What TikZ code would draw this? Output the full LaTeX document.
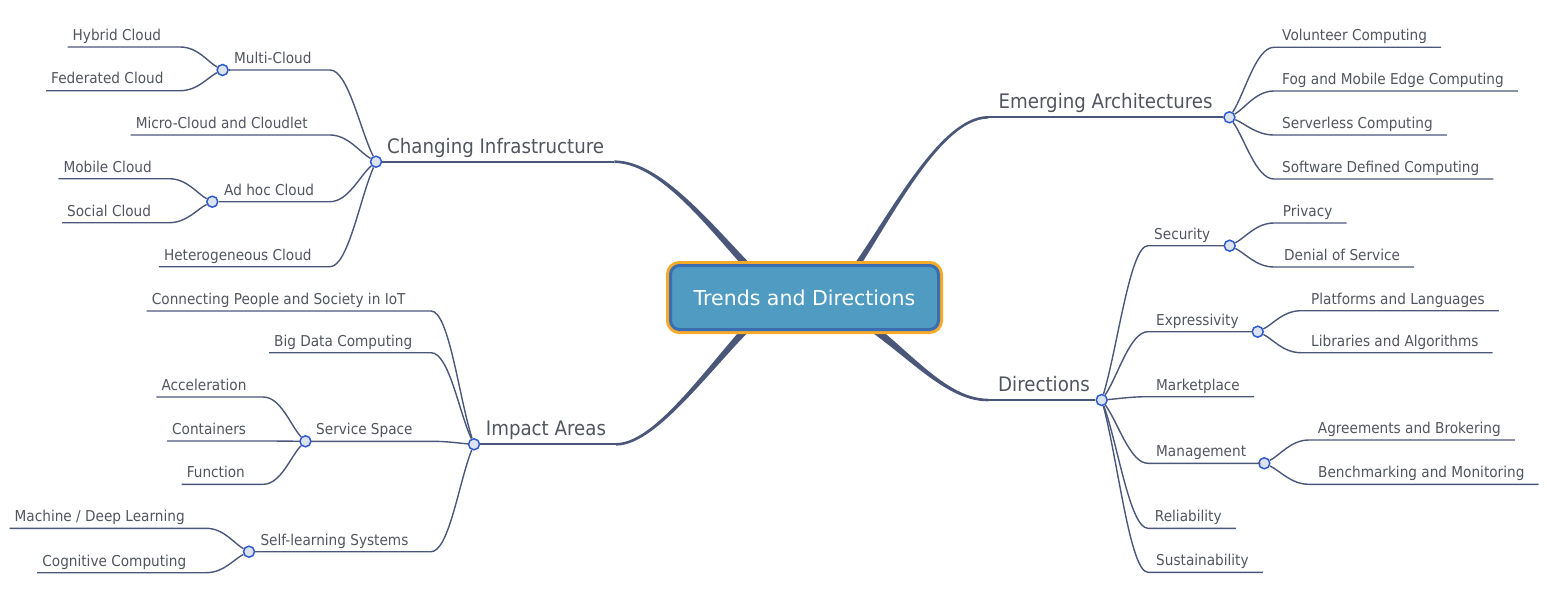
\documentclass[tikz,border=0pt]{standalone}
\usepackage{fontspec}
\newfontfamily\mapfont{DejaVu Sans}[FakeStretch=0.91]
\newfontfamily\rootfont{DejaVu Sans}
\usetikzlibrary{calc,backgrounds}

\definecolor{branchcol}{HTML}{4A5779}
\definecolor{textcol}{HTML}{50555F}
\definecolor{hubline}{HTML}{2F5BD0}
\definecolor{hubfill}{HTML}{DCE3EF}
\definecolor{rootfill}{HTML}{4F9BC2}
\definecolor{rootline}{HTML}{3B6DB3}
\definecolor{rootring}{HTML}{F6AA2A}

\tikzset{
  twig/.style={draw=branchcol, line width=1.4pt},
  hub/.style={circle, draw=hubline, fill=hubfill, line width=1.5pt, minimum size=11pt, inner sep=0pt},
  topic/.style={font=\mapfont\fontsize{15}{18}\selectfont, text=textcol, text height=11pt, text depth=3.5pt, inner ysep=3pt, anchor=south west},
  lleaf/.style={topic, inner xsep=5pt},
  rleaf/.style={topic, inner xsep=14pt},
  mainlabel/.style={font=\mapfont\fontsize{20}{24}\selectfont, text=textcol, text height=15pt, text depth=4.8pt, inner ysep=3.5pt, inner xsep=10pt, anchor=south west},
  rootbox/.style={rounded corners=9pt, fill=rootfill, draw=rootline, line width=3pt, preaction={draw=rootring, line width=9pt}, minimum width=268pt, minimum height=64pt, inner sep=0pt, text=white, font=\rootfont\fontsize{20.5}{24}\selectfont},
}

% tapered branch from the root box to a main topic
\newcommand\mainbranch[4]{%
  \fill[branchcol] ($(centre)+(#1)+(0,-6)$) .. controls ($(#2)+(0,-4.5)$) and ($(#3)+(0,-1.3)$) .. ($(#4)+(0,-1.3)$)
    -- ($(#4)+(0,1.3)$) .. controls ($(#3)+(0,1.3)$) and ($(#2)+(0,4.5)$) .. ($(centre)+(#1)+(0,6)$) -- cycle;}

\begin{document}
\begin{tikzpicture}[x=1pt,y=-1pt]
\useasboundingbox (0,0) rectangle (1560,594);

\node[rootbox] (centre) at (804.5,297.5) {Trends and Directions};

% hubs
\node[hub] (ci) at (376,161.7) {};
\node[hub] (mh) at (222.6,70) {};
\node[hub] (ah) at (212.3,201.7) {};
\node[hub] (ia) at (474,444.3) {};
\node[hub] (sh) at (305.4,441.3) {};
\node[hub] (slh) at (249,551.7) {};
\node[hub] (ea) at (1229.4,117.3) {};
\node[hub] (dh) at (1101.7,400) {};
\node[hub] (sech) at (1229.7,245.7) {};
\node[hub] (exh) at (1257.7,331.7) {};
\node[hub] (mgh) at (1264.3,463.3) {};

% where the sibling lines meet their hub
\coordinate (ciL) at (330,0);
\coordinate (mhL) at (180,0);
\coordinate (ahL) at (169,0);
\coordinate (iaL) at (431,0);
\coordinate (shL) at (263,0);
\coordinate (slL) at (206,0);
\coordinate (eaR) at (1274,0);
\coordinate (dhR) at (1148,0);
\coordinate (secR) at (1274,0);
\coordinate (exR) at (1301,0);
\coordinate (mgR) at (1309,0);

% main topics
\node[mainlabel] (changing) at (377,161.7) {Changing Infrastructure};
\node[mainlabel] (impact) at (475.7,444.3) {Impact Areas};
\node[mainlabel] (emerging) at (988.4,117.3) {Emerging Architectures};
\node[mainlabel] (directions) at (988,400) {Directions};

% left side
\node[lleaf] (multi) at (229,70) {Multi-Cloud};
\node[lleaf] (micro) at (130.6,135) {Micro-Cloud and Cloudlet};
\node[lleaf] (adhoc) at (219,201.7) {Ad hoc Cloud};
\node[lleaf] (hetero) at (158.8,266.7) {Heterogeneous Cloud};
\node[lleaf] (hybrid) at (67.5,47) {Hybrid Cloud};
\node[lleaf] (federated) at (46,90.7) {Federated Cloud};
\node[lleaf] (mobile) at (58.4,178.7) {Mobile Cloud};
\node[lleaf] (social) at (62,222.7) {Social Cloud};
\node[lleaf] (connecting) at (146.7,311) {Connecting People and Society in IoT};
\node[lleaf] (bigdata) at (269,352.7) {Big Data Computing};
\node[lleaf] (service) at (311,441.3) {Service Space};
\node[lleaf] (selflearn) at (255.3,551.7) {Self-learning Systems};
\node[lleaf] (accel) at (156.4,397) {Acceleration};
\node[lleaf] (containers) at (167,441) {Containers};
\node[lleaf] (function) at (181.6,484.3) {Function};
\node[lleaf] (machine) at (9.5,528.3) {Machine / Deep Learning};
\node[lleaf] (cognitive) at (37.2,572.7) {Cognitive Computing};

% right side
\node[rleaf] (volunteer) at (1268,47.3) {Volunteer Computing};
\node[rleaf] (fog) at (1268,91) {Fog and Mobile Edge Computing};
\node[rleaf] (serverless) at (1268,135) {Serverless Computing};
\node[rleaf] (software) at (1268,179) {Software Defined Computing};
\node[rleaf] (security) at (1140,245.7) {Security};
\node[rleaf] (expressivity) at (1142,331.7) {Expressivity};
\node[rleaf] (marketplace) at (1142,396.7) {Marketplace};
\node[rleaf] (management) at (1142,463.3) {Management};
\node[rleaf] (reliability) at (1140.7,528.3) {Reliability};
\node[rleaf] (sustainability) at (1142,572.3) {Sustainability};
\node[rleaf] (privacy) at (1268.7,223) {Privacy};
\node[rleaf] (denial) at (1270,267) {Denial of Service};
\node[rleaf] (platforms) at (1297,310.7) {Platforms and Languages};
\node[rleaf] (libraries) at (1297,352.7) {Libraries and Algorithms};
\node[rleaf] (agreements) at (1303.7,440) {Agreements and Brokering};
\node[rleaf] (benchmarking) at (1304,484.3) {Benchmarking and Monitoring};

% thick branches
\begin{scope}[on background layer]
  \mainbranch{-35,-8}{720,240}{665,161.7}{changing.south east}
  \mainbranch{35,-8}{880,240}{935,117.3}{emerging.south west}
  \mainbranch{35,8}{900,340}{940,400}{directions.south west}
  \mainbranch{-35,8}{720,350}{660,444.3}{impact.south east}
\end{scope}
\draw[twig, line width=2pt] (ci) -- (changing.south east);
\draw[twig, line width=2pt] (ia) -- (impact.south east);
\draw[twig, line width=2pt] (emerging.south west) -- (ea);
\draw[twig, line width=2pt] (directions.south west) -- (dh);

% left connectors
\foreach \n in {multi,micro,adhoc,hetero}
  \draw[twig] (\n.south west) -- (\n.south -| ciL) .. controls +(18,0) and ($(ci)!0.35!(\n.south -| ciL)$) .. (ci);
\foreach \n in {hybrid,federated}
  \draw[twig] (\n.south west) -- (\n.south -| mhL) .. controls +(18,0) and ($(mh)!0.35!(\n.south -| mhL)$) .. (mh);
\foreach \n in {mobile,social}
  \draw[twig] (\n.south west) -- (\n.south -| ahL) .. controls +(18,0) and ($(ah)!0.35!(\n.south -| ahL)$) .. (ah);
\foreach \n in {connecting,bigdata,service,selflearn}
  \draw[twig] (\n.south west) -- (\n.south -| iaL) .. controls +(18,0) and ($(ia)!0.35!(\n.south -| iaL)$) .. (ia);
\foreach \n in {accel,containers,function}
  \draw[twig] (\n.south west) -- (\n.south -| shL) .. controls +(18,0) and ($(sh)!0.35!(\n.south -| shL)$) .. (sh);
\foreach \n in {machine,cognitive}
  \draw[twig] (\n.south west) -- (\n.south -| slL) .. controls +(18,0) and ($(slh)!0.35!(\n.south -| slL)$) .. (slh);
\draw[twig] (mh) -- (multi.south west);
\draw[twig] (ah) -- (adhoc.south west);
\draw[twig] (sh) -- (service.south west);
\draw[twig] (slh) -- (selflearn.south west);

% right connectors
\foreach \n in {volunteer,fog,serverless,software}
  \draw[twig] (\n.south east) -- (\n.south -| eaR) .. controls +(-18,0) and ($(ea)!0.35!(\n.south -| eaR)$) .. (ea);
\foreach \n in {security,expressivity,marketplace,management,reliability,sustainability}
  \draw[twig] (\n.south east) -- (\n.south -| dhR) .. controls +(-18,0) and ($(dh)!0.35!(\n.south -| dhR)$) .. (dh);
\foreach \n in {privacy,denial}
  \draw[twig] (\n.south east) -- (\n.south -| secR) .. controls +(-18,0) and ($(sech)!0.35!(\n.south -| secR)$) .. (sech);
\foreach \n in {platforms,libraries}
  \draw[twig] (\n.south east) -- (\n.south -| exR) .. controls +(-18,0) and ($(exh)!0.35!(\n.south -| exR)$) .. (exh);
\foreach \n in {agreements,benchmarking}
  \draw[twig] (\n.south east) -- (\n.south -| mgR) .. controls +(-18,0) and ($(mgh)!0.35!(\n.south -| mgR)$) .. (mgh);
\draw[twig] (security.south east) -- (sech);
\draw[twig] (expressivity.south east) -- (exh);
\draw[twig] (management.south east) -- (mgh);
\end{tikzpicture}
\end{document}
